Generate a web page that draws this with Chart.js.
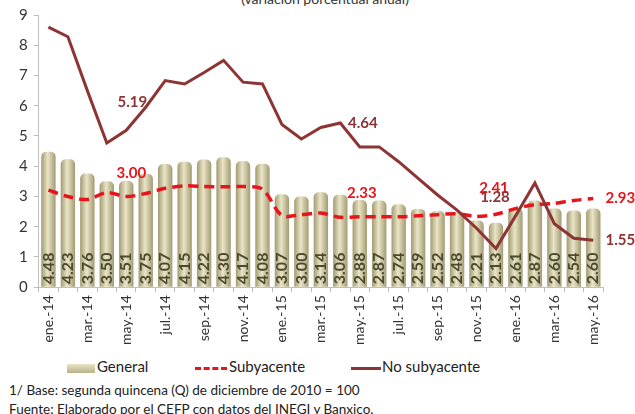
<!DOCTYPE html>
<html>
<head>
<meta charset="utf-8">
<script src="https://cdn.jsdelivr.net/npm/chart.js@4.4.1/dist/chart.umd.min.js"></script>
<style>
  body { margin: 0; background: #fff; font-family: Lato, "Open Sans", sans-serif; }
  #wrap { position: relative; width: 635px; height: 414px; overflow: hidden; }
  #title { position: absolute; top: -10px; left: 0; width: 650px; text-align: center; font-size: 14px; color: #333; }
  #box { position: absolute; top: 0; left: 0; width: 635px; height: 348px; }
  .leg { position: absolute; top: 357px; font-size: 15px; color: #222; }
  .note { position: absolute; left: 9px; font-size: 13.5px; color: #222; }
</style>
</head>
<body>
<div id="wrap">
  <div id="title">(variación porcentual anual)</div>
  <div id="box"><canvas id="cpi-chart"></canvas></div>
  <div class="leg" style="left:67px;"><span style="display:inline-block;width:28px;height:9px;background:linear-gradient(#e8e4c4,#b8b08a);vertical-align:middle;margin-right:2px;"></span>General</div>
  <div class="leg" style="left:195px;"><span style="display:inline-block;width:32px;border-top:3px dashed #e8141b;vertical-align:middle;margin-right:2px;"></span>Subyacente</div>
  <div class="leg" style="left:351px;"><span style="display:inline-block;width:30px;border-top:3px solid #8c3534;vertical-align:middle;margin-right:1px;"></span>No subyacente</div>
  <div class="note" style="top:382px;">1/ Base: segunda quincena (Q) de diciembre de 2010 = 100</div>
  <div class="note" style="top:401px;">Fuente: Elaborado por el CEFP con datos del INEGI y Banxico.</div>
</div>
<script>
const months = [
  "ene.-14", "feb.-14", "mar.-14", "abr.-14", "may.-14", "jun.-14", "jul.-14", "ago.-14",
  "sep.-14", "oct.-14", "nov.-14", "dic.-14", "ene.-15", "feb.-15", "mar.-15", "abr.-15",
  "may.-15", "jun.-15", "jul.-15", "ago.-15", "sep.-15", "oct.-15", "nov.-15", "dic.-15",
  "ene.-16", "feb.-16", "mar.-16", "abr.-16", "may.-16"
];

const general = [
  4.48, 4.23, 3.76, 3.50, 3.51, 3.75, 4.07, 4.15, 4.22, 4.30, 4.17, 4.08,
  3.07, 3.00, 3.14, 3.06, 2.88, 2.87, 2.74, 2.59, 2.52, 2.48, 2.21, 2.13,
  2.61, 2.87, 2.60, 2.54, 2.60
];

const subyacente = [
  3.21, 3.00, 2.90, 3.13, 3.00, 3.10, 3.27, 3.35, 3.33, 3.32, 3.33, 3.24,
  2.37, 2.40, 2.45, 2.31, 2.33, 2.33, 2.33, 2.36, 2.40, 2.43, 2.34, 2.41,
  2.60, 2.73, 2.77, 2.87, 2.93
];

const noSubyacente = [
  8.60, 8.28, 6.50, 4.77, 5.19, 5.95, 6.83, 6.72, 7.10, 7.50, 6.78, 6.72,
  5.38, 4.90, 5.28, 5.43, 4.64, 4.64, 4.15, 3.60, 3.05, 2.55, 1.95, 1.28,
  2.35, 3.45, 2.10, 1.62, 1.55
];

// labelled points: [index, series, text colour, dx, dy]
const callouts = [
  [4, noSubyacente, "#8c3534", 6, -28],
  [4, subyacente, "#e8141b", 5, -23],
  [16, noSubyacente, "#8c3534", 3, -24],
  [16, subyacente, "#e8141b", 2, -24],
  [23, subyacente, "#e8141b", -2, -26],
  [23, noSubyacente, "#8c3534", -1, -51],
  [28, subyacente, "#e8141b", 27, 0],
  [28, noSubyacente, "#8c3534", 27, 0]
];

const valueLabels = {
  id: "valueLabels",
  afterDatasetsDraw(chart) {
    const ctx = chart.ctx;
    const y = chart.scales.y;
    const bars = chart.getDatasetMeta(2).data;
    ctx.save();
    ctx.font = "bold 16px Lato, sans-serif";
    ctx.fillStyle = "#4a4a30";
    ctx.textAlign = "left";
    ctx.textBaseline = "middle";
    bars.forEach((bar, i) => {
      ctx.save();
      ctx.translate(bar.x, y.getPixelForValue(0) - 3);
      ctx.rotate(-Math.PI / 2);
      ctx.fillText(general[i].toFixed(2), 0, 0);
      ctx.restore();
    });
    ctx.font = "bold 15px Lato, sans-serif";
    ctx.textAlign = "center";
    callouts.forEach(([i, series, color, dx, dy]) => {
      ctx.fillStyle = color;
      ctx.fillText(series[i].toFixed(2), chart.scales.x.getPixelForValue(i) + dx, y.getPixelForValue(series[i]) + dy);
    });
    ctx.restore();
  }
};

function barFill(c) {
  const chart = c.chart;
  const x = chart.scales.x;
  if (!x || c.dataIndex === undefined) return "#cfc8a2";
  const cx = x.getPixelForValue(c.dataIndex);
  if (!Number.isFinite(cx)) return "#cfc8a2";
  const w = 7;
  const g = chart.ctx.createLinearGradient(cx - w, 0, cx + w, 0);
  g.addColorStop(0, "#a49c74");
  g.addColorStop(0.45, "#e9e5c6");
  g.addColorStop(1, "#a49c74");
  return g;
}

new Chart(document.getElementById("cpi-chart"), {
  data: {
    labels: months,
    datasets: [
      {
        type: "line",
        label: "No subyacente",
        data: noSubyacente,
        borderColor: "#8c3534",
        borderWidth: 3,
        pointRadius: 0,
        tension: 0,
        order: 1
      },
      {
        type: "line",
        label: "Subyacente",
        data: subyacente,
        borderColor: "#e8141b",
        borderWidth: 3.5,
        borderDash: [10, 6],
        pointRadius: 0,
        tension: 0.3,
        order: 2
      },
      {
        type: "bar",
        label: "General",
        data: general,
        backgroundColor: barFill,
        borderRadius: { topLeft: 5, topRight: 5 },
        borderSkipped: "bottom",
        barPercentage: 0.74,
        categoryPercentage: 1,
        order: 3
      }
    ]
  },
  options: {
    responsive: true,
    maintainAspectRatio: false,
    animation: false,
    layout: { padding: { top: 11, right: 32, left: 13 } },
    plugins: {
      legend: { display: false },
      tooltip: { enabled: false }
    },
    scales: {
      x: {
        grid: { display: true, drawOnChartArea: false, tickLength: 5, color: "#bfbfbf", offset: true },
        border: { color: "#bfbfbf" },
        ticks: {
          autoSkip: false,
          maxRotation: 90,
          minRotation: 90,
          color: "#333",
          font: { size: 14, family: "Lato, sans-serif" },
          callback: (v, i) => (i % 2 === 0 ? months[i] : "")
        }
      },
      y: {
        min: 0,
        max: 9,
        grid: { display: true, drawOnChartArea: false, tickLength: 5, color: "#bfbfbf" },
        border: { color: "#bfbfbf" },
        ticks: {
          stepSize: 1,
          color: "#333",
          padding: 6,
          font: { size: 15, family: "Lato, sans-serif" }
        }
      }
    }
  },
  plugins: [valueLabels]
});
</script>
</body>
</html>
